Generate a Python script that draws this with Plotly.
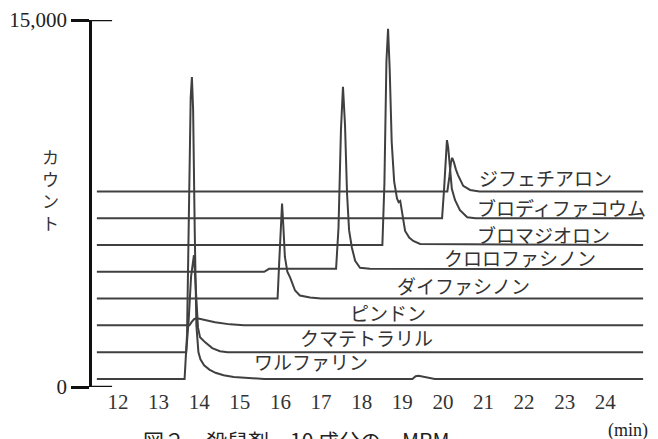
import plotly.graph_objects as go

# Compounds, bottom trace first
names = ["ワルファリン", "クマテトラリル", "ピンドン", "ダイファシノン",
         "クロロファシノン", "ブロマジオロン", "ブロディファコウム", "ジフェチアロン"]

# Retention time (min) and counts above each trace's own baseline
warfarin_t = [11.48, 13.64, 13.70, 13.75, 13.79, 13.82, 13.85, 13.89, 13.93, 13.98,
              14.03, 14.12, 14.25, 14.40, 14.60, 14.85, 15.20, 15.60,
              19.25, 19.33, 19.40, 19.50, 19.62, 19.80, 24.93]
warfarin_c = [0, 0, 1800, 7500, 11500, 12340, 11000, 6000, 2200, 1100,
              800, 560, 380, 250, 150, 80, 30, 0,
              0, 110, 130, 90, 60, 0, 0]

coumatetralyl_t = [11.48, 13.68, 13.74, 13.80, 13.87, 13.92, 13.97, 14.02, 14.14,
                   14.32, 14.51, 14.70, 24.93]
coumatetralyl_c = [0, 0, 1300, 3100, 3960, 2300, 1000, 610, 410, 165, 40, 0, 0]

pindone_t = [11.48, 13.76, 13.82, 13.88, 13.95, 14.02, 14.14, 14.39, 14.76, 15.10, 24.93]
pindone_c = [0, 0, 150, 260, 290, 260, 204, 123, 40, 0, 0]

diphacinone_t = [11.48, 15.93, 15.97, 16.01, 16.04, 16.07, 16.11, 16.17, 16.24,
                 16.36, 16.48, 16.73, 17.00, 24.93]
diphacinone_c = [0, 0, 1500, 3300, 3880, 3000, 1700, 1100, 858, 327, 123, 40, 0, 0]

chlorophacinone_t = [11.48, 15.60, 15.72, 17.37, 17.43, 17.49, 17.54, 17.59, 17.64,
                     17.69, 17.76, 17.84, 17.96, 18.20, 24.93]
chlorophacinone_c = [0, 0, 120, 120, 1800, 5800, 7560, 6000, 3200,
                     1700, 980, 450, 163, 120, 110]

bromadiolone_t = [11.48, 18.51, 18.56, 18.61, 18.65, 18.69, 18.74, 18.80, 18.87,
                  18.91, 18.95, 19.00, 19.07, 19.17, 19.27, 19.44, 24.93]
bromadiolone_c = [0, 0, 2500, 7500, 8840, 7200, 4200, 2600, 1900,
                  1750, 1800, 1300, 572, 300, 163, 40, 0]

brodifacoum_t = [11.48, 19.98, 20.03, 20.07, 20.10, 20.13, 20.17, 20.22, 20.30,
                 20.42, 20.60, 20.80, 24.93]
brodifacoum_c = [0, 0, 1200, 2700, 3190, 2900, 2000, 1200, 736, 327, 40, 0, 0]

difethialone_t = [11.48, 20.11, 20.16, 20.20, 20.23, 20.27, 20.32, 20.37, 20.50,
                  20.67, 20.90, 24.93]
difethialone_c = [0, 0, 600, 1200, 1370, 1200, 900, 675, 225, 60, 0, 0]

times = [warfarin_t, coumatetralyl_t, pindone_t, diphacinone_t,
         chlorophacinone_t, bromadiolone_t, brodifacoum_t, difethialone_t]
counts = [warfarin_c, coumatetralyl_c, pindone_c, diphacinone_c,
          chlorophacinone_c, bromadiolone_c, brodifacoum_c, difethialone_c]

x_ticks = list(range(12, 25))
y_ticks = [0, 15000]
y_tick_text = ["0", "15,000"]

# stacking of the chromatograms
BASE = 330
STEP = 1095

# label placement: left edge (min) and lift above baseline (px)
label_x = [15.30, 16.43, 17.67, 18.82, 19.98, 20.79, 20.79, 20.84]
label_lift = [17, 15, 13, 13, 14, 10, 11, 14]

LINE = "#404040"
AXIS = "#111"
SERIF = "Liberation Serif"
JP = "Noto Sans CJK JP"

fig = go.Figure()
for i, (t, c) in enumerate(zip(times, counts)):
    offset = BASE + i * STEP
    fig.add_trace(go.Scatter(
        x=t, y=[v + offset for v in c], mode="lines",
        line=dict(color=LINE, width=2), name=names[i],
        hoverinfo="skip", showlegend=False))

annotations = []
for i, name in enumerate(names):
    annotations.append(dict(
        x=label_x[i], y=BASE + i * STEP, xref="x", yref="y",
        text=name, showarrow=False, xanchor="left", yanchor="middle",
        yshift=label_lift[i], font=dict(family=JP, size=19, color="#333")))

annotations.append(dict(
    x=-0.075, y=0.537, xref="paper", yref="paper", text="カ<br>ウ<br>ン<br>ト",
    showarrow=False, xanchor="center", yanchor="middle",
    font=dict(family=JP, size=17, color="#333")))
annotations.append(dict(
    x=1.0, y=-0.085, xref="paper", yref="paper", text="(min)",
    showarrow=False, xanchor="right", yanchor="top",
    font=dict(family=SERIF, size=18, color="#222")))
annotations.append(dict(
    x=0.088, y=-0.098, xref="paper", yref="paper",
    text="図２　殺鼠剤　10 成分の　MRM",
    showarrow=False, xanchor="left", yanchor="top",
    font=dict(family=JP, size=21, color="#222")))

# inner half of the crossing tick marks on the count axis
shapes = [dict(type="line", xref="paper", yref="y", x0=0, x1=0.036,
               y0=v, y1=v, line=dict(color=AXIS, width=2.5)) for v in y_ticks]

fig.update_layout(
    width=658, height=439,
    margin=dict(l=92, r=8, t=20, b=52),
    paper_bgcolor="white", plot_bgcolor="white",
    xaxis=dict(range=[11.36, 25.10], tickvals=x_ticks, showline=False,
               showgrid=False, zeroline=False, ticks="",
               tickfont=dict(family=SERIF, size=21, color="#333")),
    yaxis=dict(range=[0, 15000], tickvals=y_ticks, ticktext=y_tick_text,
               showline=True, linecolor=AXIS, linewidth=2.5,
               ticks="outside", ticklen=18, tickwidth=2.5, tickcolor=AXIS,
               showgrid=False, zeroline=False,
               tickfont=dict(family=SERIF, size=21, color="#222")),
    shapes=shapes,
    annotations=annotations,
)

fig.write_html("out.html")
